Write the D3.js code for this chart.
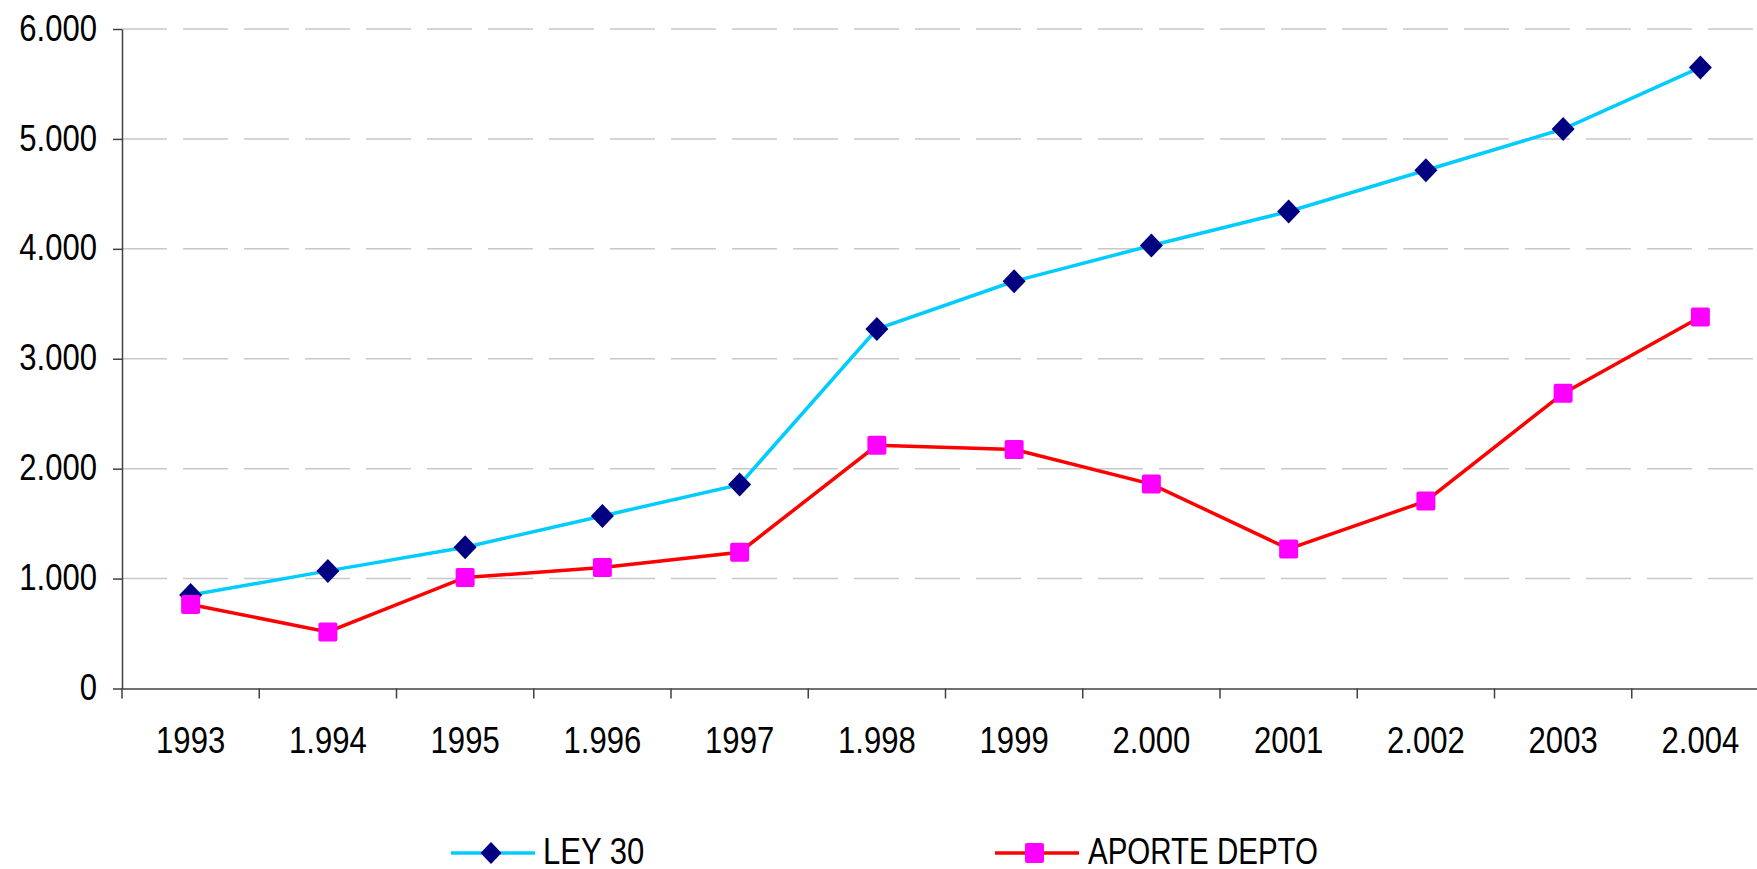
<!DOCTYPE html>
<html>
<head>
<meta charset="utf-8">
<script src="https://cdn.jsdelivr.net/npm/d3@7"></script>
<style>
  body { margin: 0; background: #fff; }
  text { font-family: "Liberation Sans", Arial, sans-serif; fill: #000; }
</style>
</head>
<body>
<div id="chart"></div>
<script>
// data
var years = ["1993", "1.994", "1995", "1.996", "1997", "1.998", "1999", "2.000", "2001", "2.002", "2003", "2.004"];
var ley30 = [850, 1070, 1285, 1570, 1855, 3270, 3705, 4030, 4340, 4715, 5090, 5650];
var aporteDepto = [765, 515, 1010, 1100, 1240, 2212, 2175, 1860, 1270, 1705, 2685, 3380];
var yTicks = [0, 1000, 2000, 3000, 4000, 5000, 6000];
var seriesNames = ["LEY 30", "APORTE DEPTO"];

var svgWidth = 1757;
var svgHeight = 869;
var squeeze = 0.84; // text in the picture is narrower than normal

var svg = d3.select("#chart")
  .append("svg")
  .attr("width", svgWidth)
  .attr("height", svgHeight);

// plot runs a bit past the right edge, like the original
var x = d3.scaleBand()
  .domain(years)
  .range([122, 1769]);

var y = d3.scaleLinear()
  .domain([0, 6000])
  .range([688.5, 29]);

var nf = d3.formatLocale({ decimal: ",", thousands: ".", grouping: [3], currency: ["", ""] }).format(",");

// gridlines
svg.append("g")
  .selectAll("line")
  .data(yTicks.filter(d => d > 0))
  .enter()
  .append("line")
  .attr("x1", 122)
  .attr("x2", svgWidth)
  .attr("y1", d => y(d))
  .attr("y2", d => y(d))
  .attr("stroke", "#c8c8c8")
  .attr("stroke-width", 1.5)
  .attr("stroke-dasharray", "45,16");

// y axis
var yAxis = svg.append("g")
  .attr("transform", "translate(122,0)")
  .call(d3.axisLeft(y).tickValues(yTicks).tickFormat(nf).tickSize(9).tickSizeOuter(0));

yAxis.select(".domain").attr("stroke", "#404040").attr("stroke-width", 1.5);
yAxis.selectAll(".tick line").attr("stroke", "#404040").attr("stroke-width", 1.5);
yAxis.selectAll(".tick text")
  .attr("font-size", 37)
  .attr("font-family", null)
  .attr("x", -25 / squeeze)
  .attr("dy", "0.3em")
  .attr("transform", `scale(${squeeze},1)`);

// x axis: labels in the middle of each band
var xAxis = svg.append("g")
  .attr("transform", "translate(0,688.5)")
  .call(d3.axisBottom(x).tickSize(0).tickSizeOuter(0));

xAxis.select(".domain").attr("stroke", "#404040").attr("stroke-width", 1.5);
xAxis.selectAll(".tick text")
  .attr("font-size", 37)
  .attr("font-family", null)
  .attr("y", 64.5)
  .attr("dy", "0")
  .attr("transform", `scale(${squeeze},1)`);

// tick marks sit between categories
xAxis.append("g")
  .selectAll("line")
  .data(years.concat(["end"]))
  .enter()
  .append("line")
  .attr("x1", d => d === "end" ? x.range()[1] : x(d))
  .attr("x2", d => d === "end" ? x.range()[1] : x(d))
  .attr("y1", 0)
  .attr("y2", 10)
  .attr("stroke", "#404040")
  .attr("stroke-width", 1.5);

var cx = (d, i) => x(years[i]) + x.bandwidth() / 2;

var line = d3.line()
  .x((d, i) => cx(d, i))
  .y(d => y(d));

// LEY 30
svg.append("path")
  .datum(ley30)
  .attr("d", line)
  .attr("fill", "none")
  .attr("stroke", "#00ccff")
  .attr("stroke-width", 3.5);

// APORTE DEPTO
svg.append("path")
  .datum(aporteDepto)
  .attr("d", line)
  .attr("fill", "none")
  .attr("stroke", "#ff0000")
  .attr("stroke-width", 3.5);

var diamond = "M0,-12L11.5,0L0,12L-11.5,0Z";

svg.append("g")
  .selectAll("path")
  .data(ley30)
  .enter()
  .append("path")
  .attr("d", diamond)
  .attr("transform", (d, i) => `translate(${cx(d, i)},${y(d)})`)
  .attr("fill", "#000080");

svg.append("g")
  .selectAll("rect")
  .data(aporteDepto)
  .enter()
  .append("rect")
  .attr("x", (d, i) => cx(d, i) - 9.5)
  .attr("y", d => y(d) - 9.5)
  .attr("width", 19)
  .attr("height", 19)
  .attr("rx", 2)
  .attr("fill", "#ff00ff");

// legend
var legend = svg.append("g");

var leg1 = legend.append("g").attr("transform", "translate(451,853)");
leg1.append("line").attr("x1", 0).attr("x2", 84).attr("stroke", "#00ccff").attr("stroke-width", 3.5);
leg1.append("path").attr("d", "M0,-11L10.5,0L0,11L-10.5,0Z").attr("transform", "translate(40,0)").attr("fill", "#000080");
leg1.append("text")
  .attr("x", 92 / squeeze)
  .attr("y", 10.5)
  .attr("font-size", 37)
  .attr("transform", `scale(${squeeze},1)`)
  .text(seriesNames[0]);

var leg2 = legend.append("g").attr("transform", "translate(995,853)");
leg2.append("line").attr("x1", 0).attr("x2", 84).attr("stroke", "#ff0000").attr("stroke-width", 3.5);
leg2.append("rect").attr("x", 30).attr("y", -10).attr("width", 19).attr("height", 20).attr("rx", 2).attr("fill", "#ff00ff");
leg2.append("text")
  .attr("x", 93)
  .attr("y", 10.5)
  .attr("font-size", 37)
  .attr("textLength", 230)
  .attr("lengthAdjust", "spacingAndGlyphs")
  .text(seriesNames[1]);
</script>
</body>
</html>
